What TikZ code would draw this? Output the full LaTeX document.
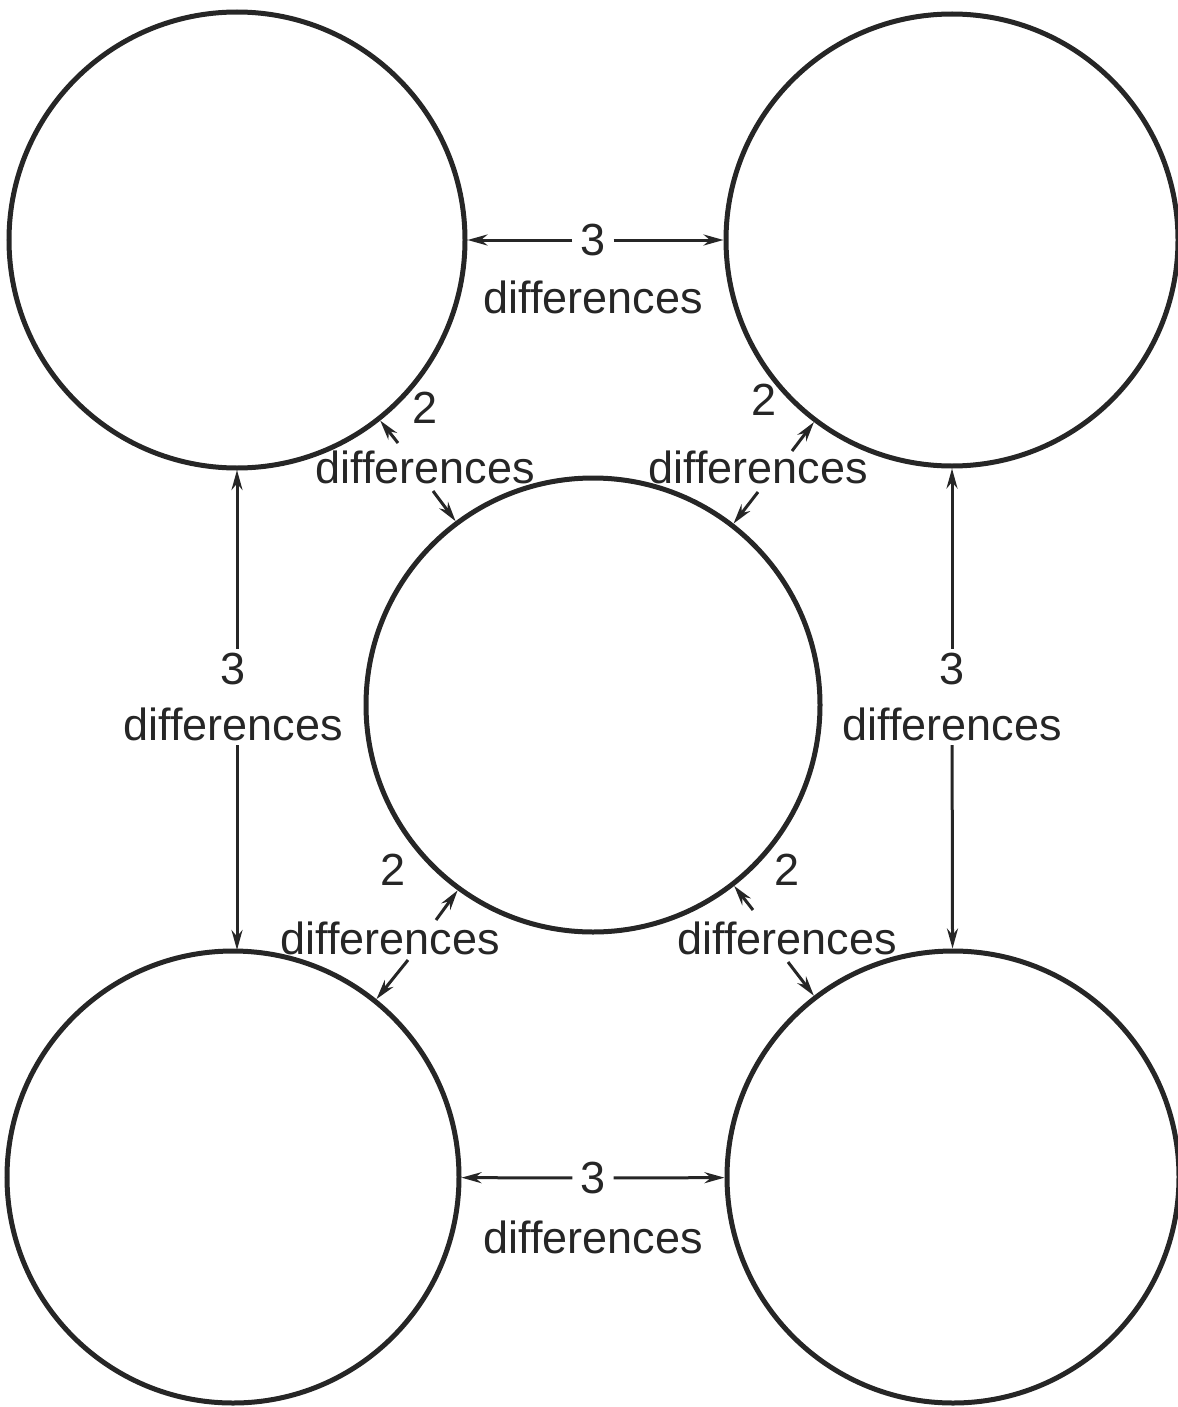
\documentclass[tikz,border=0pt]{standalone}
\usepackage{fontspec}
\setmainfont{Liberation Sans}
\usetikzlibrary{arrows.meta}
\begin{document}
\begin{tikzpicture}[x=1pt,y=-1pt,
  ring/.style={circle,draw=black!85,line width=5pt,inner sep=0pt,minimum size=#1},
  arr/.style={draw=black!85,line width=3pt,-{Stealth[length=20pt,width=11pt]}},
  lbl/.style={font=\fontsize{45}{56}\selectfont,text=black!85,inner sep=2pt},
  gap/.style={lbl,inner sep=6pt}]
\useasboundingbox (0,0) rectangle (1177,1407);
% circles
\node[ring=456pt] (tl) at (237,240) {};
\node[ring=452pt] (tr) at (952,240) {};
\node[ring=454pt] (c)  at (593,705) {};
\node[ring=452pt] (bl) at (233,1177) {};
\node[ring=452pt] (br) at (953,1177) {};
% top horizontal
\node[gap,inner xsep=8pt] (t3) at (593,240) {3};
\node[lbl] (td) at (593,297) {differences};
\draw[arr] (t3) -- (tl);
\draw[arr] (t3) -- (tr);
% bottom horizontal
\node[gap,inner xsep=8pt] (b3) at (593,1178) {3};
\node[lbl] (bd) at (593,1237) {differences};
\draw[arr] (b3) -- (bl);
\draw[arr] (b3) -- (br);
% left vertical
\node[gap,align=center,inner sep=4pt] (lv) at (233,697) {3\\differences};
\draw[arr] (lv.north -| 237,0) -- (237,470);
\draw[arr] (lv.south -| 237,0) -- (237,950);
% right vertical
\node[gap,align=center,inner sep=4pt] (rv) at (952,697) {3\\differences};
\draw[arr] (rv) -- (tr);
\draw[arr] (rv) -- (br);
% diagonal labels
\node[lbl] (d1n) at (425,408) {2};
\node[lbl] (d1d) at (425,467) {differences};
\coordinate (d1a) at (398,443);
\coordinate (d1b) at (433,491);
\draw[arr] (d1a) -- (tl);
\draw[arr] (d1b) -- (c);
\node[lbl] (d2n) at (764,400) {2};
\node[lbl] (d2d) at (758,467) {differences};
\coordinate (d2a) at (792,451);
\coordinate (d2b) at (758,492);
\draw[arr] (d2a) -- (tr);
\draw[arr] (d2b) -- (c);
\node[lbl] (d3n) at (393,870) {2};
\node[lbl] (d3d) at (390,938) {differences};
\coordinate (d3a) at (436,920);
\coordinate (d3b) at (408,960);
\draw[arr] (d3a) -- (c);
\draw[arr] (d3b) -- (bl);
\node[lbl] (d4n) at (787,870) {2};
\node[lbl] (d4d) at (787,938) {differences};
\coordinate (d4a) at (753,910);
\coordinate (d4b) at (788,962);
\draw[arr] (d4a) -- (c);
\draw[arr] (d4b) -- (br);
\end{tikzpicture}
\end{document}
